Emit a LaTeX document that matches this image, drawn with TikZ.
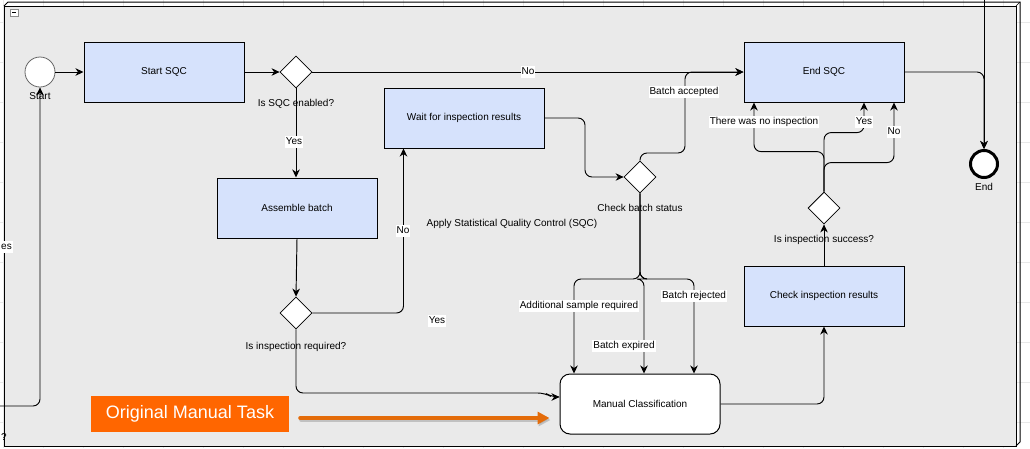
\documentclass[tikz,border=0pt]{standalone}
\usepackage{fontspec}
\setmainfont{Liberation Sans}
\usetikzlibrary{calc, positioning}
\usetikzlibrary{arrows.meta}
\usetikzlibrary{shapes.geometric}

\definecolor{poolgray}{RGB}{234,234,234}
\definecolor{taskblue}{RGB}{214,226,252}
\definecolor{noteorange}{RGB}{255,102,0}
\definecolor{arroworange}{RGB}{228,108,10}
\definecolor{gridgray}{RGB}{232,232,232}

\tikzset{
  task/.style={draw, line width=1pt, fill=taskblue, minimum width=160pt,
    minimum height=60pt, inner sep=0pt, font=\fontsize{10}{12}\selectfont},
  manual/.style={task, fill=white, rounded corners=10pt},
  gateway/.style={draw, diamond, fill=white, minimum size=32pt,
    inner sep=0pt, line width=0.8pt},
  flow/.style={line width=0.95pt, rounded corners=7pt,
    -{Stealth[length=8pt,width=7.5pt,inset=2.5pt]}},
  flowlabel/.style={fill=white, inner xsep=1pt, inner ysep=1.5pt,
    text height=7.5pt, text depth=2pt, font=\fontsize{10}{12}\selectfont},
  gatelabel/.style={inner sep=0pt, font=\fontsize{10}{12}\selectfont},
}

\begin{document}
\begin{tikzpicture}[x=1pt,y=-1pt]
\useasboundingbox (0,0) rectangle (1030,448);
\fill[white] (0,0) rectangle (1030,448);
\foreach \gx in {3,43,...,1023}
  \draw[gridgray] (\gx,0) -- (\gx,448);
\foreach \gy in {22,62,...,442}
  \draw[gridgray] (0,\gy) -- (1030,\gy);

% pool
\draw[line width=1pt, fill=poolgray] (4,6) rectangle (1016,446);
\draw[line width=1pt] (4,6) -- (8,2) -- (1020,2) -- (1020,442) -- (1016,446);
\draw[line width=0.6pt] (1016,6) -- (1020,2);
\draw[draw=black!45, fill=white, line width=0.6pt] (10,9) rectangle (18,16);
\draw[line width=0.8pt] (12,12.5) -- (16,12.5);

% events, tasks, gateways
\node[circle, draw=black!60, fill=white, minimum size=30pt,
  inner sep=0pt, line width=0.8pt] (start) at (40,72) {};
\node[task] (sqc) at (164,72) {Start SQC};
\node[gateway] (g1) at (296,72) {};
\node[task] (es) at (824,72) {End SQC};
\node[task] (wait) at (464,118) {Wait for inspection results};
\node[task] (asm) at (297,208) {Assemble batch};
\node[gateway] (g2) at (296,313) {};
\node[gateway] (g3) at (640,177) {};
\node[manual] (mc) at (640,404) {Manual Classification};
\node[task] (chk) at (824,296) {Check inspection results};
\node[gateway] (g4) at (824,208) {};
\node[circle, draw, line width=3pt, fill=white, minimum size=27pt,
  inner sep=0pt] (end) at (984,164) {};

\coordinate (leftin) at (0,406);
\coordinate (topin) at (984,0);
\coordinate (split) at (640,279);

% flows
\draw[flow] (leftin) -| (start.south);
\draw[flow] (start) -- (sqc);
\draw[flow] (sqc) -- (g1);
\draw[flow] (g1) -- (es);
\draw[flow] (g1.south) -- (g1.south |- asm.north);
\draw[flow] (asm.south) -- (g2.north);
\draw[flow] (g2.east) -| ([xshift=20pt]wait.south west);
\draw[flow] (g2.south) |- (545,393) -- (552,397) -- ([yshift=7pt]mc.west);
\draw[flow] (wait.east) -| (585,177) -- (g3.west);
\draw[flow] (g3.north) |- (685,153) |- (es.west);
\draw[flow] (g3.south) -- (split) -| ([xshift=-66pt]mc.north);
\draw[flow] (g3.south) -- (split) -| ([xshift=4pt]mc.north);
\draw[flow] (g3.south) -- (split) -| ([xshift=54pt]mc.north);
\draw[flow] (mc.east) -| (chk.south);
\draw[flow] (chk.north) -- (g4.south);
\draw[flow] (g4.north) -- ++(0,-40) -| ([xshift=-70pt]es.south);
\draw[flow] (g4.north) -- ++(0,-59) -| ([xshift=40pt]es.south);
\draw[flow] (g4.north) -- ++(0,-29) -| ([xshift=70pt]es.south);
\draw[flow] (es.east) -| (end.north);
\draw[flow] (topin) -- (end.north);

% labels
\node[gatelabel] at (40,96) {Start};
\node[gatelabel] at (984,187) {End};
\node[gatelabel] at (296,104) {Is SQC enabled?};
\node[gatelabel] at (296,347) {Is inspection required?};
\node[gatelabel] at (640,208) {Check batch status};
\node[gatelabel] at (824,240) {Is inspection success?};
\node[gatelabel] at (512,224) {Apply Statistical Quality Control (SQC)};
\node[gatelabel, anchor=west] at (1,437) {?};

\node[flowlabel] at (528,72) {No};
\node[flowlabel] at (294,142) {Yes};
\node[flowlabel] at (403,231) {No};
\node[flowlabel] at (437,321) {Yes};
\node[flowlabel, anchor=west] at (0,247) {es};
\node[flowlabel] at (684,92) {Batch accepted};
\node[flowlabel] at (579,306) {Additional sample required};
\node[flowlabel] at (624,346) {Batch expired};
\node[flowlabel] at (694,296) {Batch rejected};
\node[flowlabel] at (764,122) {There was no inspection};
\node[flowlabel] at (864,122) {Yes};
\node[flowlabel] at (894,132) {No};

% note
\node[fill=noteorange, text=white, minimum width=198pt, minimum height=36pt,
  inner sep=0pt, font=\fontsize{18}{20}\selectfont] (note) at (190,414)
  {Original Manual Task};
\draw[black!35, opacity=0.6, line width=4pt, line cap=round,
  -{Triangle[length=12pt,width=12pt]}]
  ([xshift=12pt,yshift=-6pt]note.east) -- ([xshift=-9pt,yshift=-6pt]note.east -| mc.west);
\draw[arroworange, line width=4pt, line cap=round,
  -{Triangle[length=12pt,width=12pt]}]
  ([xshift=11pt,yshift=-4pt]note.east) -- ([xshift=-10pt,yshift=-4pt]note.east -| mc.west);
\end{tikzpicture}
\end{document}
